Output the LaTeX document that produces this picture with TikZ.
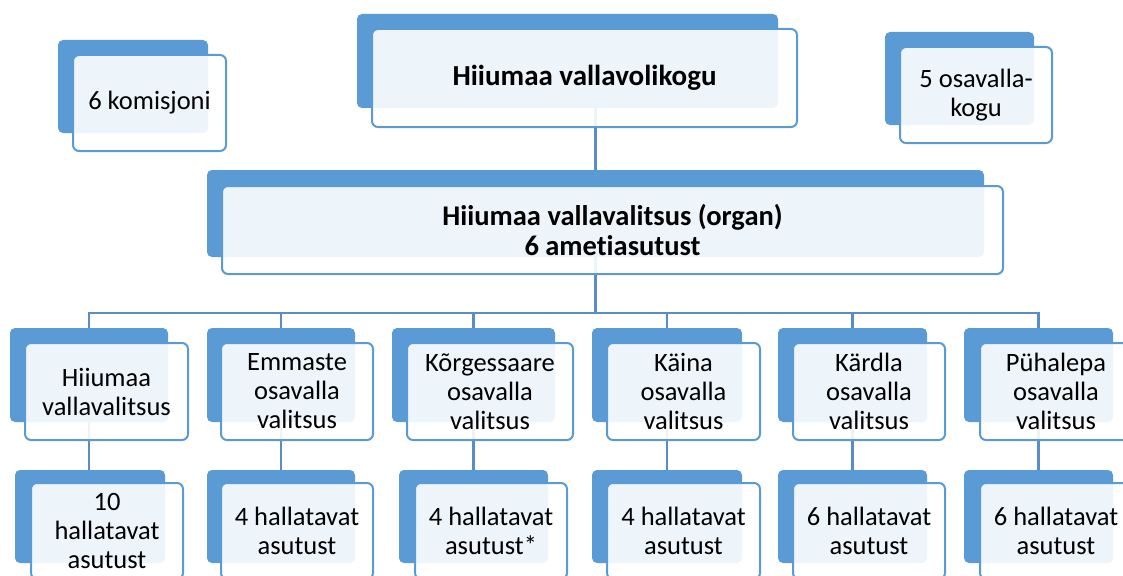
\documentclass[tikz,border=0pt]{standalone}
\usepackage{fontspec}
\setmainfont{Carlito}[Ligatures={NoCommon}]
\definecolor{smblue}{HTML}{5B9BD5}
\definecolor{lineblue}{HTML}{5A8DC8}

\begin{document}
\begin{tikzpicture}[x=1pt,y=-1pt,
        back/.style={fill=smblue,rounded corners=5pt,inner sep=0pt},
        front/.style={draw=smblue,line width=2pt,fill=white,fill opacity=0.9,text opacity=1,
            rounded corners=6pt,align=center,inner sep=0pt,font=\fontsize{26.5}{29}\selectfont},
        link/.style={draw=lineblue,line width=2.5pt}]
        \useasboundingbox (0,0) rectangle (1123,575);
        \clip (0,0) rectangle (1123,575);
        % blue back plates
        \node[back,minimum width=421,minimum height=94] (vvol-b) at (567.5,61) {};
        \node[back,minimum width=150,minimum height=93] (kom-b) at (133,86.5) {};
        \node[back,minimum width=149,minimum height=93] (ovk-b) at (959.5,78.5) {};
        \node[back,minimum width=777,minimum height=87] (org-b) at (595.5,213.5) {};
        \node[back,minimum width=158,minimum height=94] (hv-b) at (89,375) {};
        \node[back,minimum width=148,minimum height=94] (em-b) at (281,375) {};
        \node[back,minimum width=163,minimum height=94] (ko-b) at (473.5,375) {};
        \node[back,minimum width=150,minimum height=94] (ka-b) at (667,375) {};
        \node[back,minimum width=149,minimum height=94] (kr-b) at (852.5,375) {};
        \node[back,minimum width=149,minimum height=94] (pu-b) at (1038.5,375) {};
        \node[back,minimum width=150,minimum height=93] (hv2-b) at (90,516.5) {};
        \node[back,minimum width=148,minimum height=93] (em2-b) at (281,516.5) {};
        \node[back,minimum width=149,minimum height=93] (ko2-b) at (473.5,516.5) {};
        \node[back,minimum width=150,minimum height=93] (ka2-b) at (667,516.5) {};
        \node[back,minimum width=149,minimum height=93] (kr2-b) at (852.5,516.5) {};
        \node[back,minimum width=149,minimum height=93] (pu2-b) at (1038.5,516.5) {};
        % connectors
        \coordinate (bus) at (595.5,313);
        \draw[link] (org-b.north) -- (org-b.north |- vvol-b.south);
        \draw[link] (org-b.south) -- (bus);
        \draw[link] (hv-b.north) -- (hv-b.north |- bus) -- (pu-b.north |- bus) -- (pu-b.north);
        \draw[link] (em-b.north) -- (em-b.north |- bus);
        \draw[link] (ko-b.north) -- (ko-b.north |- bus);
        \draw[link] (ka-b.north) -- (ka-b.north |- bus);
        \draw[link] (kr-b.north) -- (kr-b.north |- bus);
        \draw[link] (hv-b.south) -- (hv-b.south |- hv2-b.north);
        \draw[link] (em-b.south) -- (em-b.south |- em2-b.north);
        \draw[link] (ko-b.south) -- (ko-b.south |- ko2-b.north);
        \draw[link] (ka-b.south) -- (ka-b.south |- ka2-b.north);
        \draw[link] (kr-b.south) -- (kr-b.south |- kr2-b.north);
        \draw[link] (pu-b.south) -- (pu-b.south |- pu2-b.north);
        % text boxes
        \node[front,minimum width=425,minimum height=98,font=\fontsize{29}{32}\selectfont\bfseries] (vvol) at (584.5,78) {Hiiumaa vallavolikogu};
        \node[front,minimum width=153,minimum height=96] (kom) at (149.5,103) {6 komisjoni};
        \node[front,minimum width=152,minimum height=96] (ovk) at (976,95) {5 osavalla-\\kogu};
        \node[front,minimum width=781,minimum height=88,font=\fontsize{28.5}{30}\selectfont\bfseries] (org) at (612.5,230) {Hiiumaa vallavalitsus (organ)\\6 ametiasutust};
        \node[front,minimum width=163,minimum height=97] (hv) at (106.5,391.5) {Hiiumaa\\vallavalitsus};
        \node[front,minimum width=152,minimum height=97] (em) at (297,391.5) {Emmaste\\osavalla\\valitsus};
        \node[front,minimum width=166,minimum height=97] (ko) at (490,391.5) {Kõrgessaare\\osavalla\\valitsus};
        \node[front,minimum width=153,minimum height=97] (ka) at (683.5,391.5) {Käina\\osavalla\\valitsus};
        \node[front,minimum width=152,minimum height=97] (kr) at (869,391.5) {Kärdla\\osavalla\\valitsus};
        \node[front,minimum width=152,minimum height=97] (pu) at (1056,391.5) {Pühalepa\\osavalla\\valitsus};
        \node[front,minimum width=152,minimum height=96] (hv2) at (107,531) {10\\hallatavat\\asutust};
        \node[front,minimum width=152,minimum height=96] (em2) at (297,531) {4 hallatavat\\asutust};
        \node[front,minimum width=152,minimum height=96] (ko2) at (491,531) {4 hallatavat\\asutust*};
        \node[front,minimum width=153,minimum height=96] (ka2) at (683.5,531) {4 hallatavat\\asutust};
        \node[front,minimum width=152,minimum height=96] (kr2) at (869,531) {6 hallatavat\\asutust};
        \node[front,minimum width=152,minimum height=96] (pu2) at (1056,531) {6 hallatavat\\asutust};
    \end{tikzpicture}
\end{document}
